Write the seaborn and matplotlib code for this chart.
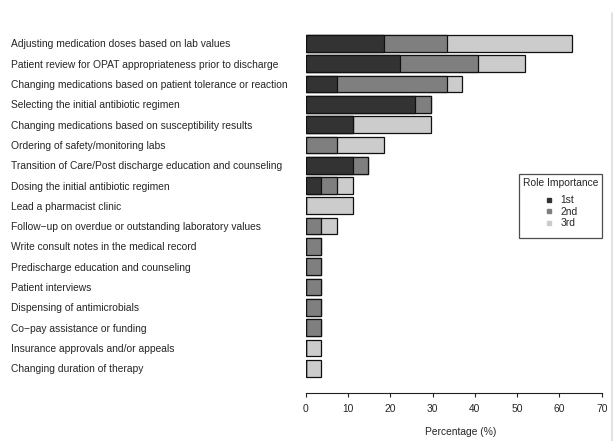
import matplotlib
matplotlib.use("Agg")
import matplotlib.pyplot as plt
from matplotlib.lines import Line2D
import seaborn as sns
import pandas as pd

# Pharmacist roles, ranked by share of respondents naming them 1st/2nd/3rd
roles = [
    "Adjusting medication doses based on lab values",
    "Patient review for OPAT appropriateness prior to discharge",
    "Changing medications based on patient tolerance or reaction",
    "Selecting the initial antibiotic regimen",
    "Changing medications based on susceptibility results",
    "Ordering of safety/monitoring labs",
    "Transition of Care/Post discharge education and counseling",
    "Dosing the initial antibiotic regimen",
    "Lead a pharmacist clinic",
    "Follow\u2212up on overdue or outstanding laboratory values",
    "Write consult notes in the medical record",
    "Predischarge education and counseling",
    "Patient interviews",
    "Dispensing of antimicrobials",
    "Co\u2212pay assistance or funding",
    "Insurance approvals and/or appeals",
    "Changing duration of therapy",
]
first = [18.5, 22.2, 7.4, 25.9, 11.1, 0.0, 11.1, 3.7, 0.0, 0.0, 0.0, 0.0, 0.0, 0.0, 0.0, 0.0, 0.0]
second = [14.8, 18.5, 25.9, 3.7, 0.0, 7.4, 3.7, 3.7, 0.0, 3.7, 3.7, 3.7, 3.7, 3.7, 3.7, 0.0, 0.0]
third = [29.6, 11.1, 3.7, 0.0, 18.5, 11.1, 0.0, 3.7, 11.1, 3.7, 0.0, 0.0, 0.0, 0.0, 0.0, 3.7, 3.7]
rank_labels = ["1st", "2nd", "3rd"]
rank_colors = ["#333333", "#7f7f7f", "#cccccc"]

df = pd.DataFrame({"role": roles, "first": first, "second": second, "third": third})
df["cum1"] = df["first"]
df["cum2"] = df["cum1"] + df["second"]
df["cum3"] = df["cum2"] + df["third"]

sns.set_theme(style="white")
plt.rcParams["font.family"] = ["Liberation Sans", "DejaVu Sans"]
FS = 7.35

fig = plt.figure(figsize=(6.14, 4.41), dpi=100)
ax = fig.add_axes([0.4979, 0.1281, 0.4821, 0.8104])

# Stack by overdrawing cumulative totals from the outermost segment inward
for col, color in zip(["cum3", "cum2", "cum1"], rank_colors[::-1]):
    sns.barplot(data=df, x=col, y="role", order=roles, orient="y",
                color=color, saturation=1, width=0.82, errorbar=None,
                edgecolor="#111111", linewidth=0.9, ax=ax)

ax.set_xlim(0, 70)
ax.set_ylim(16.8, -0.8)
ax.set_xticks(range(0, 71, 10))
ax.set_xlabel("Percentage (%)", fontsize=FS)
ax.set_ylabel("")
ax.xaxis.set_label_coords(0.524, -0.12)

for side in ["top", "right", "left"]:
    ax.spines[side].set_visible(False)
ax.spines["bottom"].set_bounds(0, 70)
ax.spines["bottom"].set_position(("outward", 6))
ax.spines["bottom"].set_color("#222222")
ax.spines["bottom"].set_linewidth(0.8)

ax.tick_params(axis="x", direction="out", length=3.2, width=0.8, color="#222222",
               labelsize=FS, pad=5, bottom=True)
ax.tick_params(axis="y", length=0, pad=212, labelsize=FS)
for lbl in ax.get_yticklabels():
    lbl.set_horizontalalignment("left")

handles = [Line2D([0], [0], marker="s", linestyle="", markersize=3.2,
                  markerfacecolor=c, markeredgecolor=c) for c in rank_colors]
leg = ax.legend(handles, rank_labels, title="Role Importance", loc="upper right",
                bbox_to_anchor=(1.0, 0.589), borderaxespad=0, fontsize=FS,
                title_fontsize=FS, frameon=True, fancybox=False,
                handletextpad=0.5, labelspacing=0.15, borderpad=0.35,
                handlelength=1.2)
leg.get_frame().set_edgecolor("#222222")
leg.get_frame().set_linewidth(0.9)
leg._legend_box.align = "center"
leg._legend_handle_box.pad = 4.5

# thin page border on the right
fig.add_artist(Line2D([0.9965, 0.9965], [0.0, 0.97], transform=fig.transFigure,
                      color="#dddddd", linewidth=1.2))

fig.savefig("out.png", dpi=100)
